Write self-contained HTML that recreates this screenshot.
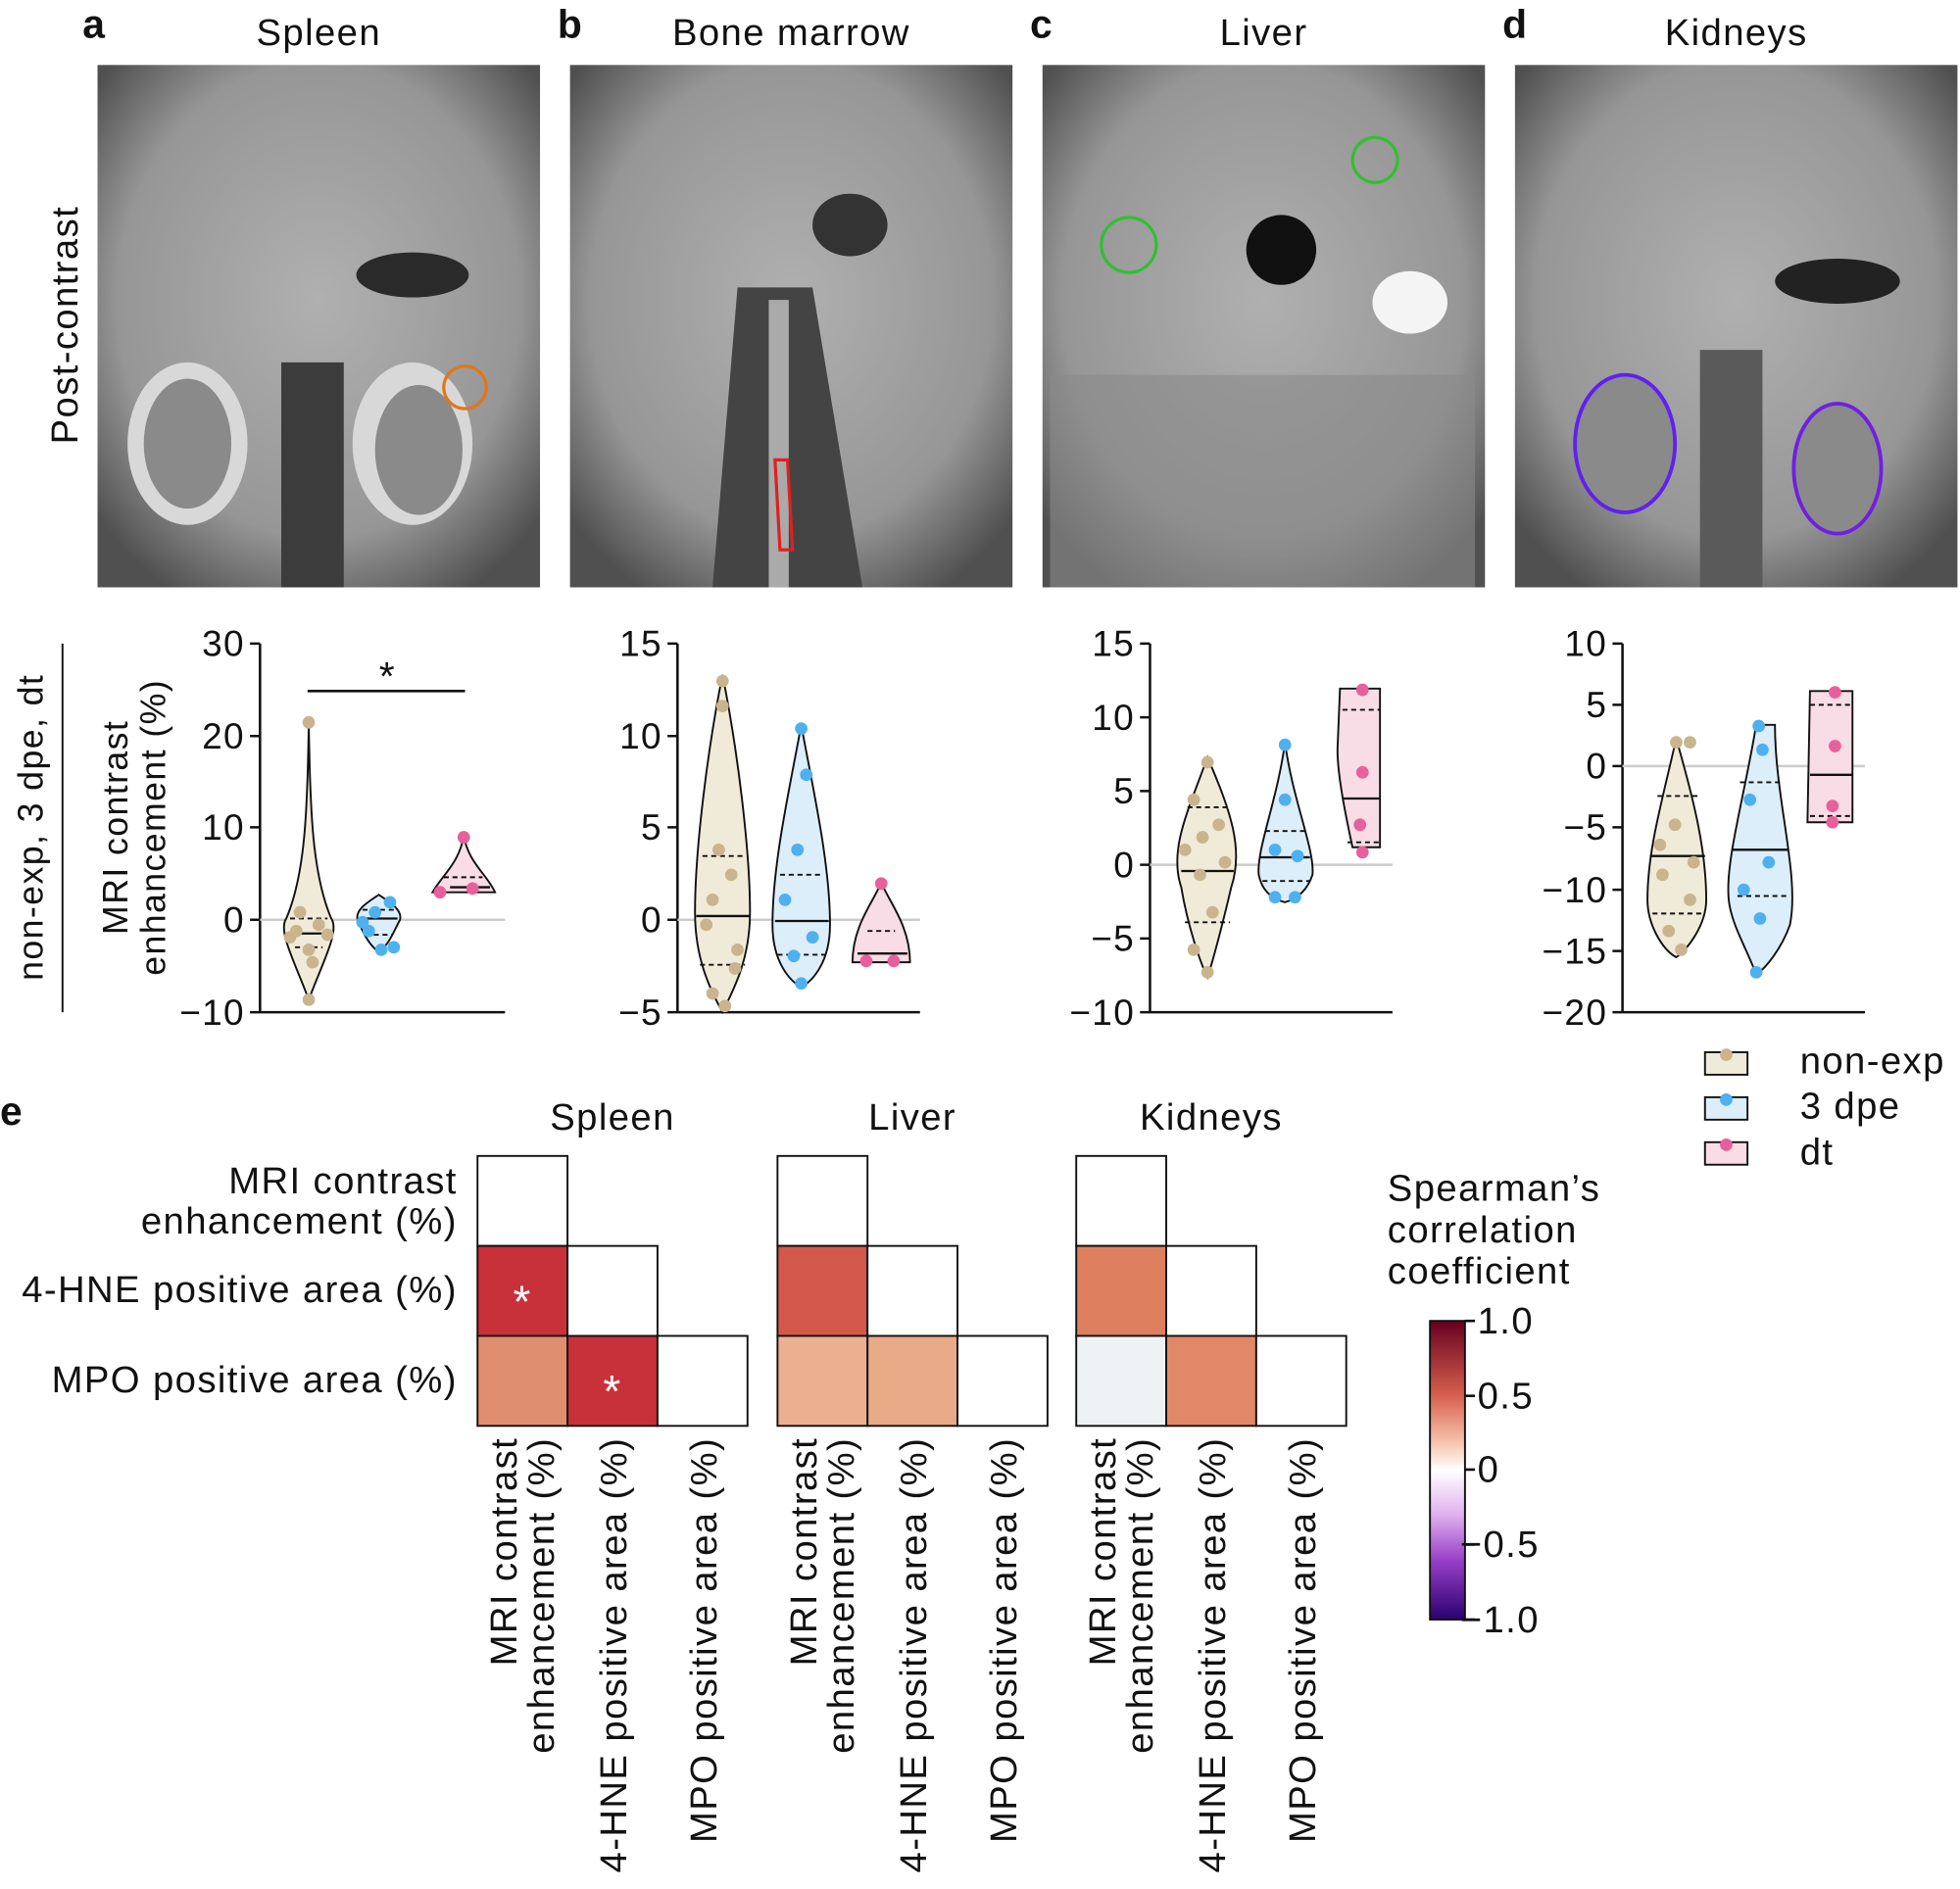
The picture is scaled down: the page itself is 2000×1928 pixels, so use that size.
<!DOCTYPE html>
<html><head><meta charset="utf-8"><style>
html,body{margin:0;padding:0;background:#fff}
svg{display:block}
text{font-family:"Liberation Sans",Arial,sans-serif;fill:#111;letter-spacing:1.1px}
</style></head><body>
<svg width="2000" height="1928" viewBox="0 0 1568 1511.6" xmlns="http://www.w3.org/2000/svg">
<defs>
<radialGradient id="mri" cx="50%" cy="45%" r="65%">
<stop offset="0" stop-color="#b0b0b0"/><stop offset="0.7" stop-color="#969696"/><stop offset="1" stop-color="#505050"/>
</radialGradient>
<linearGradient id="cb" x1="0" y1="0" x2="0" y2="1">
<stop offset="0" stop-color="#67001f"/><stop offset="0.25" stop-color="#d6604d"/><stop offset="0.4" stop-color="#f4c0a8"/><stop offset="0.5" stop-color="#ffffff"/><stop offset="0.65" stop-color="#e0b0ee"/><stop offset="0.8" stop-color="#9940c8"/><stop offset="1" stop-color="#2a0070"/>
</linearGradient>
</defs>

<g font-size="32" font-weight="bold"><text x="66" y="30">a</text><text x="446" y="30">b</text><text x="824" y="30">c</text><text x="1202" y="30">d</text><text x="0" y="900">e</text></g>
<g font-size="30" text-anchor="middle"><text x="255" y="36">Spleen</text><text x="633" y="36">Bone marrow</text><text x="1011" y="36">Liver</text><text x="1389" y="36">Kidneys</text></g>
<text font-size="30" text-anchor="middle" transform="translate(62,260) rotate(-90)">Post-contrast</text>

<g>
<rect x="78" y="52" width="354" height="418" fill="url(#mri)"/>
<rect x="456" y="52" width="354" height="418" fill="url(#mri)"/>
<rect x="834" y="52" width="354" height="418" fill="url(#mri)"/>
<rect x="1212" y="52" width="354" height="418" fill="url(#mri)"/>
<ellipse cx="150" cy="355" rx="48" ry="65" fill="#d8d8d8"/><ellipse cx="150" cy="355" rx="35" ry="52" fill="#8a8a8a"/>
<ellipse cx="330" cy="355" rx="48" ry="65" fill="#d8d8d8"/><ellipse cx="335" cy="360" rx="35" ry="52" fill="#8a8a8a"/>
<rect x="225" y="290" width="50" height="180" fill="#3c3c3c"/>
<ellipse cx="330" cy="220" rx="45" ry="18" fill="#2a2a2a"/>
<circle cx="372" cy="310" r="17" fill="none" stroke="#e07818" stroke-width="2.5"/>
<path d="M590 230 L650 230 L690 470 L570 470 Z" fill="#444"/>
<rect x="615" y="240" width="16" height="230" fill="#aaa"/>
<path d="M620 368 L630 368 L634 440 L624 440 Z" fill="none" stroke="#e02020" stroke-width="2.5"/>
<ellipse cx="680" cy="180" rx="30" ry="25" fill="#333"/>
<ellipse cx="1025" cy="200" rx="28" ry="28" fill="#111"/>
<ellipse cx="1128" cy="242" rx="30" ry="25" fill="#f4f4f4"/>
<circle cx="903" cy="196" r="22" fill="none" stroke="#30c030" stroke-width="2.5"/>
<circle cx="1100" cy="128" r="18" fill="none" stroke="#30c030" stroke-width="2.5"/>
<rect x="840" y="300" width="340" height="170" fill="#8a8a8a" opacity="0.6"/>
<ellipse cx="1300" cy="355" rx="40" ry="55" fill="#8a8a8a" stroke="#6020f0" stroke-width="3"/>
<ellipse cx="1470" cy="375" rx="35" ry="52" fill="#8a8a8a" stroke="#7020e0" stroke-width="3"/>
<rect x="1360" y="280" width="50" height="190" fill="#5a5a5a"/>
<ellipse cx="1470" cy="225" rx="50" ry="18" fill="#222"/>
</g>

<line x1="50" y1="515" x2="50" y2="810" stroke="#111" stroke-width="1.5"/>
<text font-size="28" text-anchor="middle" transform="translate(34,662) rotate(-90)">non-exp, 3 dpe, dt</text>
<text font-size="28" text-anchor="middle" transform="translate(102,662) rotate(-90)">MRI contrast</text>
<text font-size="28" text-anchor="middle" transform="translate(132,662) rotate(-90)">enhancement (%)</text>

<g stroke="#111" stroke-width="2" fill="none">
<path d="M208 515 V810 H404 M200 515 H208 M200 589 H208 M200 662 H208 M200 736 H208 M200 810 H208"/>
<path d="M542 515 V810 H736 M534 515 H542 M534 589 H542 M534 662 H542 M534 736 H542 M534 810 H542"/>
<path d="M920 515 V810 H1114 M912 515 H920 M912 574 H920 M912 633 H920 M912 692 H920 M912 751 H920 M912 810 H920"/>
<path d="M1298 515 V810 H1492 M1290 515 H1298 M1290 564 H1298 M1290 613 H1298 M1290 662 H1298 M1290 712 H1298 M1290 761 H1298 M1290 810 H1298"/>
<path d="M246 553 H372"/>
</g>
<g stroke="#ccc" stroke-width="2"><line x1="208" y1="736" x2="404" y2="736"/><line x1="542" y1="736" x2="736" y2="736"/><line x1="920" y1="692" x2="1114" y2="692"/><line x1="1298" y1="613" x2="1492" y2="613"/></g>
<text x="310" y="552" font-size="32" text-anchor="middle">*</text>
<g font-size="29" text-anchor="end">
<text x="196" y="525">30</text><text x="196" y="599">20</text><text x="196" y="672">10</text><text x="196" y="746">0</text><text x="196" y="820">−10</text>
<text x="530" y="525">15</text><text x="530" y="599">10</text><text x="530" y="672">5</text><text x="530" y="746">0</text><text x="530" y="820">−5</text>
<text x="908" y="525">15</text><text x="908" y="584">10</text><text x="908" y="643">5</text><text x="908" y="702">0</text><text x="908" y="761">−5</text><text x="908" y="820">−10</text>
<text x="1286" y="525">10</text><text x="1286" y="574">5</text><text x="1286" y="623">0</text><text x="1286" y="672">−5</text><text x="1286" y="722">−10</text><text x="1286" y="771">−15</text><text x="1286" y="820">−20</text>
</g>

<g stroke="#111" stroke-width="1.5">
<path d="M247 578 C248 650 250 700 265 735 C272 745 258 770 247 800 C236 770 222 745 229 735 C244 700 246 650 247 578Z" fill="#f0ead8"/>
<path d="M303 716 C312 722 322 728 320 736 C315 745 312 755 303 762 C294 755 290 745 286 736 C284 728 294 722 303 716Z" fill="#dceefa"/>
<path d="M371 668 C374 690 390 700 396 714 L346 714 C354 700 368 690 371 668Z" fill="#f8dce6"/>
<path d="M578 540 C590 600 600 680 600 730 C600 770 585 795 578 810 C570 795 556 770 556 730 C556 680 566 600 578 540Z" fill="#f0ead8"/>
<path d="M641 580 C650 630 664 690 664 740 C664 770 650 785 641 790 C632 785 618 770 618 740 C618 690 632 630 641 580Z" fill="#dceefa"/>
<path d="M705 706 C710 720 728 740 728 770 L682 770 C682 740 700 720 705 706Z" fill="#f8dce6"/>
<path d="M966 606 C985 650 995 680 985 710 C978 740 970 770 966 782 C960 770 950 740 945 710 C935 680 950 650 966 606Z" fill="#f0ead8"/>
<path d="M1028 594 C1034 640 1052 680 1050 700 C1045 715 1035 720 1028 722 C1020 720 1010 715 1007 700 C1005 680 1022 640 1028 594Z" fill="#dceefa"/>
<path d="M1072 551 H1104 V678 H1082 C1076 650 1070 620 1070 600 Z" fill="#f8dce6"/>
<path d="M1341 591 C1355 640 1365 680 1365 720 C1365 740 1350 760 1341 766 C1330 760 1318 740 1318 720 C1318 680 1330 640 1341 591Z" fill="#f0ead8"/>
<path d="M1405 580 H1420 C1420 640 1440 700 1432 740 C1425 760 1412 775 1405 780 C1398 760 1385 740 1383 720 C1380 690 1395 640 1405 580Z" fill="#dceefa"/>
<path d="M1448 553 H1482 V658 H1446 Z" fill="#f8dce6"/>
</g>
<g stroke="#111" stroke-width="1.8">
<line x1="230" y1="747" x2="266" y2="747"/><line x1="288" y1="735" x2="318" y2="735"/><line x1="360" y1="710" x2="392" y2="710"/>
<line x1="557" y1="733" x2="600" y2="733"/><line x1="620" y1="737" x2="663" y2="737"/><line x1="686" y1="763" x2="726" y2="763"/>
<line x1="945" y1="697" x2="987" y2="697"/><line x1="1008" y1="686" x2="1048" y2="686"/><line x1="1074" y1="639" x2="1104" y2="639"/>
<line x1="1320" y1="685" x2="1364" y2="685"/><line x1="1386" y1="680" x2="1430" y2="680"/><line x1="1448" y1="620" x2="1482" y2="620"/>
</g>
<g stroke="#111" stroke-width="1.5" stroke-dasharray="4,3">
<line x1="232" y1="735" x2="262" y2="735"/><line x1="236" y1="758" x2="258" y2="758"/>
<line x1="290" y1="728" x2="316" y2="728"/><line x1="292" y1="748" x2="314" y2="748"/>
<line x1="355" y1="702" x2="386" y2="702"/>
<line x1="562" y1="685" x2="596" y2="685"/><line x1="560" y1="772" x2="596" y2="772"/>
<line x1="624" y1="700" x2="658" y2="700"/><line x1="622" y1="764" x2="660" y2="764"/>
<line x1="694" y1="745" x2="716" y2="745"/>
<line x1="950" y1="646" x2="982" y2="646"/><line x1="948" y1="738" x2="984" y2="738"/>
<line x1="1012" y1="665" x2="1046" y2="665"/><line x1="1010" y1="705" x2="1048" y2="705"/>
<line x1="1074" y1="568" x2="1104" y2="568"/><line x1="1078" y1="674" x2="1104" y2="674"/>
<line x1="1326" y1="637" x2="1360" y2="637"/><line x1="1322" y1="731" x2="1362" y2="731"/>
<line x1="1392" y1="626" x2="1426" y2="626"/><line x1="1390" y1="717" x2="1432" y2="717"/>
<line x1="1448" y1="564" x2="1482" y2="564"/><line x1="1448" y1="653" x2="1482" y2="653"/>
</g>
<g fill="#c9b48e">
<circle cx="247" cy="578" r="5"/><circle cx="247" cy="800" r="5"/><circle cx="237" cy="745" r="5"/><circle cx="255" cy="740" r="5"/><circle cx="247" cy="760" r="5"/><circle cx="240" cy="730" r="5"/><circle cx="232" cy="750" r="5"/><circle cx="262" cy="748" r="5"/><circle cx="250" cy="770" r="5"/>
<circle cx="578" cy="545" r="5"/><circle cx="578" cy="565" r="5"/><circle cx="575" cy="680" r="5"/><circle cx="585" cy="700" r="5"/><circle cx="565" cy="740" r="5"/><circle cx="590" cy="760" r="5"/><circle cx="570" cy="795" r="5"/><circle cx="580" cy="805" r="5"/><circle cx="570" cy="720" r="5"/><circle cx="588" cy="775" r="5"/>
<circle cx="966" cy="610" r="5"/><circle cx="955" cy="640" r="5"/><circle cx="975" cy="660" r="5"/><circle cx="960" cy="700" r="5"/><circle cx="970" cy="730" r="5"/><circle cx="955" cy="760" r="5"/><circle cx="966" cy="778" r="5"/><circle cx="948" cy="680" r="5"/><circle cx="980" cy="690" r="5"/><circle cx="962" cy="670" r="5"/>
<circle cx="1341" cy="594" r="5"/><circle cx="1352" cy="594" r="5"/><circle cx="1340" cy="660" r="5"/><circle cx="1330" cy="700" r="5"/><circle cx="1352" cy="720" r="5"/><circle cx="1335" cy="745" r="5"/><circle cx="1345" cy="760" r="5"/><circle cx="1328" cy="676" r="5"/><circle cx="1355" cy="690" r="5"/>
</g>
<g fill="#4fb0f0">
<circle cx="300" cy="730" r="5"/><circle cx="312" cy="722" r="5"/><circle cx="295" cy="745" r="5"/><circle cx="305" cy="760" r="5"/><circle cx="315" cy="758" r="5"/><circle cx="290" cy="738" r="5"/>
<circle cx="641" cy="583" r="5"/><circle cx="645" cy="620" r="5"/><circle cx="638" cy="680" r="5"/><circle cx="628" cy="720" r="5"/><circle cx="650" cy="750" r="5"/><circle cx="635" cy="765" r="5"/><circle cx="641" cy="787" r="5"/>
<circle cx="1028" cy="596" r="5"/><circle cx="1028" cy="640" r="5"/><circle cx="1020" cy="680" r="5"/><circle cx="1038" cy="685" r="5"/><circle cx="1020" cy="718" r="5"/><circle cx="1036" cy="718" r="5"/>
<circle cx="1407" cy="581" r="5"/><circle cx="1410" cy="600" r="5"/><circle cx="1400" cy="640" r="5"/><circle cx="1415" cy="690" r="5"/><circle cx="1395" cy="712" r="5"/><circle cx="1408" cy="735" r="5"/><circle cx="1405" cy="778" r="5"/>
</g>
<g fill="#e8609a">
<circle cx="371" cy="670" r="5"/><circle cx="352" cy="714" r="5"/><circle cx="378" cy="711" r="5"/>
<circle cx="705" cy="707" r="5"/><circle cx="693" cy="769" r="5"/><circle cx="715" cy="769" r="5"/>
<circle cx="1090" cy="552" r="5"/><circle cx="1090" cy="618" r="5"/><circle cx="1088" cy="660" r="5"/><circle cx="1090" cy="682" r="5"/>
<circle cx="1468" cy="554" r="5"/><circle cx="1468" cy="597" r="5"/><circle cx="1466" cy="645" r="5"/><circle cx="1466" cy="658" r="5"/>
</g>

<g stroke="#111" stroke-width="1.5">
<rect x="1364" y="842" width="34" height="18" fill="#f0ead8"/><rect x="1364" y="878" width="34" height="18" fill="#dceefa"/><rect x="1364" y="914" width="34" height="18" fill="#f8dce6"/>
</g>
<circle cx="1381" cy="844" r="5" fill="#c9b48e"/><circle cx="1381" cy="880" r="5" fill="#4fb0f0"/><circle cx="1381" cy="916" r="5" fill="#e8609a"/>
<g font-size="30"><text x="1440" y="859">non-exp</text><text x="1440" y="895">3 dpe</text><text x="1440" y="932">dt</text></g>

<g font-size="30" text-anchor="middle"><text x="490" y="904">Spleen</text><text x="730" y="904">Liver</text><text x="969" y="904">Kidneys</text></g>
<g font-size="30" text-anchor="end"><text x="366" y="955">MRI contrast</text><text x="366" y="987">enhancement (%)</text><text x="366" y="1042">4-HNE positive area (%)</text><text x="366" y="1114">MPO positive area (%)</text></g>
<g stroke="#111" stroke-width="1.5">
<rect x="382" y="925" width="72" height="72" fill="#fff"/><rect x="382" y="997" width="72" height="72" fill="#c8303a"/><rect x="454" y="997" width="72" height="72" fill="#fff"/>
<rect x="382" y="1069" width="72" height="72" fill="#e08e70"/><rect x="454" y="1069" width="72" height="72" fill="#c8303a"/><rect x="526" y="1069" width="72" height="72" fill="#fff"/>
<rect x="622" y="925" width="72" height="72" fill="#fff"/><rect x="622" y="997" width="72" height="72" fill="#d4584a"/><rect x="694" y="997" width="72" height="72" fill="#fff"/>
<rect x="622" y="1069" width="72" height="72" fill="#ebb090"/><rect x="694" y="1069" width="72" height="72" fill="#e9aa88"/><rect x="766" y="1069" width="72" height="72" fill="#fff"/>
<rect x="861" y="925" width="72" height="72" fill="#fff"/><rect x="861" y="997" width="72" height="72" fill="#de8060"/><rect x="933" y="997" width="72" height="72" fill="#fff"/>
<rect x="861" y="1069" width="72" height="72" fill="#eef2f4"/><rect x="933" y="1069" width="72" height="72" fill="#e08868"/><rect x="1005" y="1069" width="72" height="72" fill="#fff"/>
</g>
<g font-size="36" text-anchor="middle"><text x="418" y="1054" style="fill:#fff">*</text><text x="490" y="1126" style="fill:#fff">*</text></g>
<g font-size="30">
<text transform="translate(413,1150) rotate(-90)" text-anchor="end">MRI contrast</text>
<text transform="translate(443,1150) rotate(-90)" text-anchor="end">enhancement (%)</text>
<text transform="translate(501,1150) rotate(-90)" text-anchor="end">4-HNE positive area (%)</text>
<text transform="translate(573,1150) rotate(-90)" text-anchor="end">MPO positive area (%)</text>
<text transform="translate(653,1150) rotate(-90)" text-anchor="end">MRI contrast</text>
<text transform="translate(683,1150) rotate(-90)" text-anchor="end">enhancement (%)</text>
<text transform="translate(741,1150) rotate(-90)" text-anchor="end">4-HNE positive area (%)</text>
<text transform="translate(813,1150) rotate(-90)" text-anchor="end">MPO positive area (%)</text>
<text transform="translate(892,1150) rotate(-90)" text-anchor="end">MRI contrast</text>
<text transform="translate(922,1150) rotate(-90)" text-anchor="end">enhancement (%)</text>
<text transform="translate(980,1150) rotate(-90)" text-anchor="end">4-HNE positive area (%)</text>
<text transform="translate(1052,1150) rotate(-90)" text-anchor="end">MPO positive area (%)</text>
</g>

<g font-size="30"><text x="1110" y="961">Spearman’s</text><text x="1110" y="994">correlation</text><text x="1110" y="1027">coefficient</text></g>
<rect x="1144" y="1057" width="28" height="239" fill="url(#cb)" stroke="#111" stroke-width="1.5"/>
<g stroke="#111" stroke-width="2"><path d="M1172 1057 H1180 M1172 1117 H1180 M1172 1176 H1180 M1172 1236 H1180 M1172 1296 H1180"/></g>
<g font-size="30"><text x="1182" y="1067">1.0</text><text x="1182" y="1127">0.5</text><text x="1182" y="1186">0</text><text x="1168" y="1246">−0.5</text><text x="1168" y="1306">−1.0</text></g>
</svg>
</body></html>
